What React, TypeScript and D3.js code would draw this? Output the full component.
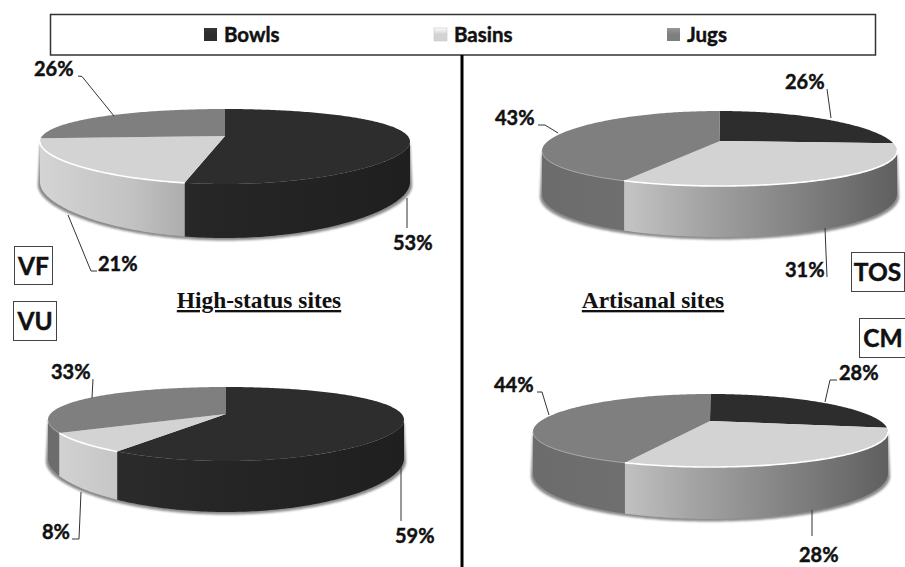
import React from "react";
import * as d3 from "d3";

// Share of each vessel class per site, in percent.
const siteNames = ["VF", "TOS", "VU", "CM"];
const bowls = [53, 26, 59, 28];
const basins = [21, 31, 8, 28];
const jugs = [26, 43, 33, 44];
const vesselNames = ["Bowls", "Basins", "Jugs"];

const topFill = ["#2d2d2d", "#d3d3d3", "#7f7f7f"];
const legendX = [204, 434, 667];
const legendTextX = [224, 454, 687];

// Ellipse outline of each pie: extents of the top face, its hub, the foot of the wall
// and how strongly slice ends are pulled sideways by the tilt.
const pieFrames = [
  { left: 40, right: 410, top: 109, bottom: 184, hubX: 225, hubY: 136, foot: 238, pull: 0.155 },
  { left: 542, right: 897, top: 111, bottom: 186, hubX: 720, hubY: 141, foot: 237, pull: 0.26 },
  { left: 48, right: 404, top: 387, bottom: 461, hubX: 226, hubY: 414, foot: 512, pull: 0.16 },
  { left: 533, right: 888, top: 394, bottom: 467, hubX: 710, hubY: 421, foot: 519, pull: 0.29 },
];

// Leader line and value label position for each slice, per pie.
const callouts = [
  [
    { tx: 393, ty: 250, line: [[407, 198], [407, 228]] },
    { tx: 98, ty: 271, line: [[68, 215], [91, 271], [97, 271]] },
    { tx: 34, ty: 76, line: [[78, 76], [82, 76.5], [114, 116]] },
  ],
  [
    { tx: 785, ty: 89, line: [[827, 89], [831, 118]] },
    { tx: 785, ty: 277, line: [[827, 277], [825, 228]] },
    { tx: 495, ty: 125, line: [[538, 125], [545, 125], [558, 133]] },
  ],
  [
    { tx: 395, ty: 543, line: [[401, 467], [401, 521]] },
    { tx: 42, ty: 539, line: [[72, 539], [79, 539], [81, 492]] },
    { tx: 51, ty: 379, line: [[93, 379], [92, 398]] },
  ],
  [
    { tx: 839, ty: 380, line: [[837, 380], [830, 380], [825, 402]] },
    { tx: 799, ty: 562, line: [[812, 510], [812, 536]] },
    { tx: 494, ty: 392, line: [[537, 392], [542, 392], [549, 415]] },
  ],
];

const siteBoxes = [
  { x: 14, y: 246, w: 38, h: 38, tx: 19.5 },
  { x: 851, y: 252, w: 53, h: 39, tx: 26.5 },
  { x: 13, y: 301, w: 43, h: 39, tx: 22 },
  { x: 859, y: 318, w: 50, h: 39, tx: 24 },
];

const LABEL_FONT = "Lato, Carlito, sans-serif";
const wallStops: string[][] = [
  ["#2b2b2b", "#2a2a2a", "#262626", "#1f1f1f"],
  ["#d4d4d4", "#c2c2c2", "#a4a4a4", "#5f5f5f"],
  ["#6c6c6c", "#6f6f6f", "#727272", "#666666"],
];
const wallOffsets = [0, 0.25, 0.45, 1];

type Frame = (typeof pieFrames)[number];

// Perspective projection of a unit disc on to the tilted pie face, so that slice
// boundaries meet at the hub, which sits above the centre of the drawn ellipse.
function projector(f: Frame) {
  const a = f.hubY - f.top;
  const b = f.bottom - f.hubY;
  const c = (b - a) / (a + b);
  const rx = ((f.right - f.left) / 2) * Math.sqrt(1 - f.pull * f.pull);
  const cx = (f.left + f.right) / 2;
  const k = f.top * (1 + c) - f.hubY;
  const h0 = (f.foot - f.bottom) * (1 - c);
  const point = (t: number): [number, number] => {
    const u = Math.sin(t);
    const v = Math.cos(t);
    return [cx + (rx * u) / (1 + f.pull * v), (k * v + f.hubY) / (1 + c * v)];
  };
  const drop = (t: number) => h0 / (1 + c * Math.cos(t));
  return { point, drop, tR: Math.acos(-f.pull), cx };
}

const sample = (a0: number, a1: number) => {
  const n = Math.max(2, Math.ceil(((a1 - a0) / Math.PI) * 180));
  return d3.range(n + 1).map((i) => a0 + ((a1 - a0) * i) / n);
};

const path = d3.line();
const pieLayout = d3.pie<number>().sort(null).value((d) => d);

function Pie({ index }: { index: number }) {
  const f = pieFrames[index];
  const { point, drop, tR, cx } = projector(f);
  const arcs = pieLayout([bowls[index], basins[index], jugs[index]]);
  const tL = 2 * Math.PI - tR;
  const values = [bowls[index], basins[index], jugs[index]];
  const rim = sample(tR, tL);
  const shadow = [
    ...rim.map((t) => {
      const [x, y] = point(t);
      return [cx + (x - cx) * 1.012, y + drop(t) + 2.5] as [number, number];
    }),
    ...rim
      .slice()
      .reverse()
      .map((t) => point(t)),
  ];
  return (
    <g>
      <defs>
        {wallStops.map((stops, s) => (
          <linearGradient key={s} id={`wall-${index}-${s}`} gradientUnits="userSpaceOnUse" x1={f.left} x2={f.right} y1={0} y2={0}>
            {stops.map((col, j) => (
              <stop key={j} offset={wallOffsets[j]} stopColor={col} />
            ))}
          </linearGradient>
        ))}
      </defs>
      <path d={path(shadow)!} fill="#8a8a8a" filter="url(#soft)" />
      {arcs.map((a, s) => {
        const a0 = Math.max(a.startAngle, tR);
        const a1 = Math.min(a.endAngle, tL);
        if (a1 <= a0) return null;
        const ts = sample(a0, a1);
        const upper = ts.map(point);
        const lower = ts
          .slice()
          .reverse()
          .map((t) => {
            const [x, y] = point(t);
            return [x, y + drop(t)] as [number, number];
          });
        return <path key={s} d={path([...upper, ...lower])! + "Z"} fill={`url(#wall-${index}-${s})`} />;
      })}
      {arcs.map((a, s) => {
        const hub: [number, number] = [f.hubX, f.hubY];
        return <path key={s} d={path([hub, ...sample(a.startAngle, a.endAngle).map(point)])! + "Z"} fill={topFill[s]} />;
      })}
      {arcs.map((a, s) => {
        const a0 = Math.max(a.startAngle, tR);
        const a1 = Math.min(a.endAngle, tL);
        if (a1 <= a0 || s === 0) return null;
        return (
          <path
            key={s}
            d={path(sample(a0, a1).map(point))!}
            fill="none"
            stroke={s === 1 ? "#ffffff" : "#a8a8a8"}
            strokeWidth={s === 1 ? 1.6 : 1}
          />
        );
      })}
      {callouts[index].map((cal, s) => (
        <g key={s}>
          <path d={path(cal.line as [number, number][])!} fill="none" stroke="#333" strokeWidth={1} />
          <text x={cal.tx} y={cal.ty} fontFamily={LABEL_FONT} fontWeight={700} fontSize={20} fill="#111" stroke="#111" strokeWidth={0.45}>
            {values[s]}%
          </text>
        </g>
      ))}
    </g>
  );
}

export default function App() {
  return (
    <svg width={905} height={567} style={{ position: "absolute", left: 0, top: 0, background: "#fff" }}>
      <defs>
        <filter id="soft" x="-5%" y="-5%" width="110%" height="115%">
          <feGaussianBlur stdDeviation={0.8} />
        </filter>
        {topFill.map((col, i) => (
          <linearGradient key={i} id={`swatch-${i}`} x1={0} x2={0} y1={0} y2={1}>
            <stop offset={0} stopColor={d3.color(col)!.brighter(0.5).formatHex()} />
            <stop offset={0.5} stopColor={col} />
            <stop offset={1} stopColor={col} />
          </linearGradient>
        ))}
      </defs>

      <rect x={50.5} y={14.5} width={825} height={40.5} fill="#fff" stroke="#333" strokeWidth={1.5} />
      {vesselNames.map((name, i) => (
        <g key={name}>
          <rect x={legendX[i]} y={28} width={13} height={13} fill={`url(#swatch-${i})`} stroke={i === 1 ? "#c8c8c8" : "none"} strokeWidth={0.6} />
          <text x={legendTextX[i]} y={41.5} fontFamily={LABEL_FONT} fontWeight={700} fontSize={20.5} fill="#111" stroke="#111" strokeWidth={0.45}>
            {name}
          </text>
        </g>
      ))}

      <line x1={462} x2={462} y1={55} y2={567} stroke="#000" strokeWidth={3} />

      {siteNames.map((_, i) => (
        <Pie key={i} index={i} />
      ))}

      {siteNames.map((name, i) => {
        const b = siteBoxes[i];
        return (
          <g key={name}>
            <rect x={b.x + 0.5} y={b.y + 0.5} width={b.w} height={b.h} fill="#fff" stroke="#444" strokeWidth={1} />
            <text
              x={b.x + b.tx}
              y={b.y + b.h / 2 + 9.5}
              textAnchor="middle"
              fontFamily={LABEL_FONT}
              fontWeight={700}
              fontSize={24.5}
              fill="#111"
              stroke="#111"
              strokeWidth={0.45}
            >
              {name}
            </text>
          </g>
        );
      })}

      {[
        { t: "High-status sites", x: 259 },
        { t: "Artisanal sites", x: 653 },
      ].map((g) => (
        <text
          key={g.t}
          x={g.x}
          y={308}
          textAnchor="middle"
          fontFamily="'Liberation Serif', serif"
          fontWeight={700}
          fontSize={23.4}
          textDecoration="underline"
          fill="#111"
        >
          {g.t}
        </text>
      ))}
    </svg>
  );
}
